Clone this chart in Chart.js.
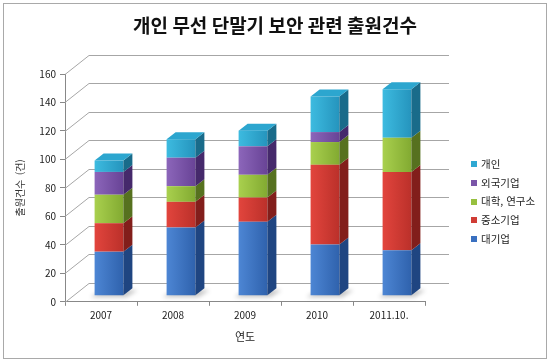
<!DOCTYPE html>
<html lang="ko">
<head>
<meta charset="utf-8">
<title>개인 무선 단말기 보안 관련 출원건수</title>
<script src="https://cdn.jsdelivr.net/npm/chart.js@4.4.1/dist/chart.umd.min.js"></script>
<style>
  html, body { margin: 0; padding: 0; background: #fff; }
  #wrap { position: relative; width: 550px; height: 361px; }
  #frame { position: absolute; left: 3px; top: 3px; width: 542px; height: 354px; border: 1px solid #a9a9a9; pointer-events: none; }
  #legend { position: absolute; left: 471px; top: 155px; font: 10.5px "Noto Sans CJK KR", sans-serif; color: #222; }
  #legend div { height: 18.7px; line-height: 18.7px; white-space: nowrap; }
  #legend span { display: inline-block; width: 6px; height: 6px; margin-right: 4px; vertical-align: middle; position: relative; top: -1px; }
</style>
</head>
<body>
<div id="wrap">
  <canvas id="chart" width="550" height="361"></canvas>
  <div id="legend"></div>
  <div id="frame"></div>
</div>
<script>
// categories
const years = ["2007", "2008", "2009", "2010", "2011.10."];

// series, bottom of the stack first
const seriesNames = ["대기업", "중소기업", "대학, 연구소", "외국기업", "개인"];
const largeCompany   = [31, 48, 52, 36, 32];
const smallCompany   = [20, 18, 17, 56, 55];
const university     = [20, 11, 16, 16, 24];
const foreignCompany = [16, 20, 20, 7, 0];
const individual     = [8, 13, 11, 25, 34];

// axis
const yMin = 0;
const yMax = 160;
const yStep = 20;

// colours: front light / front dark / side / top / legend
const frontLight = ["#4d86d4", "#e2453d", "#a9d04e", "#8c66ba", "#3dbbe0"];
const frontDark  = ["#2f62ad", "#bb302a", "#82aa31", "#684396", "#2594bd"];
const sideColor  = ["#1f4581", "#821e1b", "#56711f", "#45296b", "#196b8a"];
const topColor   = ["#3d73c4", "#cd3b34", "#96c03e", "#7a55a9", "#2ca6cf"];
const keyColor   = ["#3a70c0", "#d03c35", "#97c03f", "#7a55a8", "#2fa8d2"];

const seriesValues = [largeCompany, smallCompany, university, foreignCompany, individual];

// 3D offsets
const SX = 9, SY = -7;    // bar depth
const BX = 8, BY = -6;    // bar front face behind the front plane
const WX = 24, WY = -19;  // back wall

Chart.defaults.font.family = '"Noto Sans CJK KR", "Noto Sans", sans-serif';
Chart.defaults.color = "#333";

function frontFill(c, i) {
  const chart = c.chart;
  const xs = chart.scales && chart.scales.x;
  if (!xs || !chart.chartArea || c.dataIndex === undefined) return frontLight[i];
  const cx = xs.getPixelForValue(c.dataIndex);
  const w = xs.width / years.length * 0.4;
  const g = chart.ctx.createLinearGradient(cx - w / 2, 0, cx + w / 2, 0);
  g.addColorStop(0, frontLight[i]);
  g.addColorStop(1, frontDark[i]);
  return g;
}

const threeD = {
  id: "threeD",
  beforeDatasetsDraw(chart) {
    const { ctx, chartArea: a, scales: { y } } = chart;
    ctx.save();
    ctx.strokeStyle = "#a6a6a6";
    ctx.lineWidth = 1;
    y.ticks.forEach(t => {
      const py = Math.round(y.getPixelForValue(t.value)) + 0.5;
      ctx.beginPath();
      ctx.moveTo(a.left, py);
      ctx.lineTo(a.left + WX, py + WY);
      ctx.lineTo(a.right + WX, py + WY);
      ctx.stroke();
    });

    // soft shadows on the floor
    const meta0 = chart.getDatasetMeta(0);
    ctx.filter = "blur(2px)";
    ctx.fillStyle = "rgba(0,0,0,0.22)";
    meta0.data.forEach(el => {
      const L = el.x - el.width / 2 + BX;
      const R = el.x + el.width / 2 + BX;
      const B = el.base + BY;
      ctx.beginPath();
      ctx.moveTo(L - 4, B + 2);
      ctx.lineTo(R + 3, B + 2);
      ctx.lineTo(R + SX + 5, B + SY + 2);
      ctx.lineTo(L + SX, B + SY);
      ctx.closePath();
      ctx.fill();
    });
    ctx.restore();
  },
  beforeDatasetDraw(chart) {
    chart.ctx.save();
    chart.ctx.translate(BX, BY);
  },
  afterDatasetDraw(chart) {
    chart.ctx.restore();
  },
  afterDatasetsDraw(chart) {
    const ctx = chart.ctx;
    const n = chart.data.datasets.length;
    ctx.save();
    for (let i = 0; i < n; i++) {
      const meta = chart.getDatasetMeta(i);
      meta.data.forEach((el, j) => {
        if (!chart.data.datasets[i].data[j]) return;
        const L = el.x - el.width / 2 + BX;
        const R = el.x + el.width / 2 + BX;
        const T = el.y + BY;
        const B = el.base + BY;
        ctx.fillStyle = sideColor[i];
        ctx.beginPath();
        ctx.moveTo(R, T);
        ctx.lineTo(R + SX, T + SY);
        ctx.lineTo(R + SX, B + SY);
        ctx.lineTo(R, B);
        ctx.closePath();
        ctx.fill();

        let top = true;
        for (let k = i + 1; k < n; k++) {
          if (chart.data.datasets[k].data[j]) top = false;
        }
        if (top) {
          ctx.fillStyle = topColor[i];
          ctx.beginPath();
          ctx.moveTo(L, T);
          ctx.lineTo(L + SX, T + SY);
          ctx.lineTo(R + SX, T + SY);
          ctx.lineTo(R, T);
          ctx.closePath();
          ctx.fill();
        }
      });
    }
    ctx.restore();
  }
};

const datasets = seriesNames.map((name, i) => ({
  label: name,
  data: seriesValues[i],
  backgroundColor: c => frontFill(c, i),
  borderWidth: 0,
  categoryPercentage: 0.8,
  barPercentage: 0.5,
  clip: false
}));

new Chart(document.getElementById("chart"), {
  type: "bar",
  data: { labels: years, datasets },
  plugins: [threeD],
  options: {
    responsive: false,
    animation: false,
    layout: { padding: { left: 0, right: 0, top: 0, bottom: 14 } },
    plugins: {
      legend: { display: false },
      tooltip: { enabled: false },
      title: {
        display: true,
        text: "개인 무선 단말기 보안 관련 출원건수",
        color: "#111",
        font: { size: 19, weight: "bold" },
        padding: { top: 14.6, bottom: 36.6 }
      }
    },
    scales: {
      x: {
        stacked: true,
        grid: { offset: true, drawOnChartArea: false, tickLength: 4, color: "#888" },
        border: { color: "#888" },
        ticks: { font: { size: 10 }, color: "#222", padding: 3, maxRotation: 0 },
        title: { display: true, text: "연도", font: { size: 11 }, color: "#222", padding: { top: 6, bottom: 4 } }
      },
      y: {
        stacked: true,
        min: yMin,
        max: yMax,
        ticks: { stepSize: yStep, font: { size: 10 }, color: "#222", padding: 4 },
        grid: { drawOnChartArea: false, tickLength: 5, color: "#888" },
        border: { color: "#888" },
        title: { display: true, text: "출원건수  (건)", font: { size: 10 }, color: "#333", padding: { top: 14, bottom: 0 } },
        afterFit(scale) { scale.width = 65; }
      },
      // empty room on the right for the legend
      side: {
        type: "linear",
        position: "right",
        grid: { display: false },
        border: { display: false },
        ticks: { display: false },
        afterFit(scale) { scale.width = 125; }
      }
    }
  }
});

// legend, top of the stack first
const legend = document.getElementById("legend");
for (let i = seriesNames.length - 1; i >= 0; i--) {
  const row = document.createElement("div");
  const key = document.createElement("span");
  key.style.background = keyColor[i];
  row.appendChild(key);
  row.appendChild(document.createTextNode(seriesNames[i]));
  legend.appendChild(row);
}
</script>
</body>
</html>
